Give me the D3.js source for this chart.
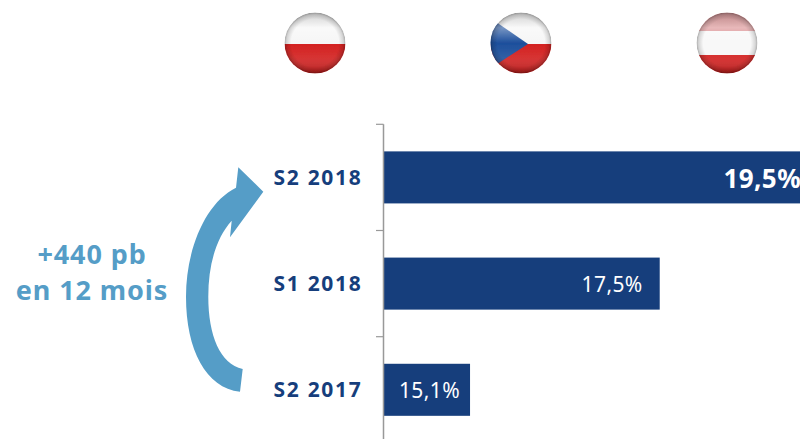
<!DOCTYPE html>
<html><head><meta charset="utf-8">
<script src="https://cdn.jsdelivr.net/npm/d3@7/dist/d3.min.js"></script>
<style>html,body{margin:0;padding:0;background:#fff;overflow:hidden}svg{display:block;font-family:"Noto Sans",sans-serif}</style>
</head><body><svg id="c" width="800" height="439"></svg>
<script>
const periods = ["S2 2018","S1 2018","S2 2017"];
const values = [19.5,17.5,15.1];
const valueLabels = ["19,5%","17,5%","15,1%"];
const flagNames = ["Pologne","Tchéquie","Autriche"];
const noteLines = ["+440 pb","en 12 mois"];

const navy="#163e7c", blue="#559dc7", grey="#999";
const labelInsets=[-1,17,10];
const svg=d3.select("#c");
const x=d3.scaleLinear().domain([14,20]).range([383.1,857.3]);
const y=d3.scaleBand().domain(periods).range([124.3,442.9]).paddingInner(0.51).paddingOuter(0.255);

// bars
svg.selectAll(".bar").data(values).join("rect").attr("class","bar")
 .attr("x",x(14)).attr("y",(d,i)=>y(periods[i])).attr("width",d=>x(d)-x(14)).attr("height",y.bandwidth()).attr("fill",navy);
svg.selectAll(".val").data(values).join("text").attr("class","val")
 .attr("x",(d,i)=>i===0?801:x(d)-labelInsets[i]).attr("y",(d,i)=>y(periods[i])+y.bandwidth()/2+1)
 .attr("dy","0.35em").attr("text-anchor","end").attr("fill","#fff")
 .attr("font-size",(d,i)=>i===0?26:21).attr("font-weight",(d,i)=>i===0?700:400).attr("letter-spacing",0.4)
 .text((d,i)=>valueLabels[i]);

// axis
const ax=svg.append("g").attr("transform","translate(383.5,0)");
ax.call(d3.axisLeft(y).tickSize(0).tickPadding(21));
ax.select(".domain").remove();
ax.attr("font-family",null);
ax.selectAll("text").attr("fill",navy).attr("font-size",21).attr("font-weight",700).attr("letter-spacing",1.7).attr("dy","0.36em");
const edges=periods.map(p=>y(p)-y.step()*0.255);
svg.append("line").attr("x1",383.5).attr("x2",383.5).attr("y1",edges[0]).attr("y2",439).attr("stroke",grey).attr("stroke-width",1.5);
svg.selectAll(".tk").data(edges).join("line").attr("class","tk").attr("x1",376).attr("x2",383.5).attr("y1",d=>d).attr("y2",d=>d).attr("stroke",grey).attr("stroke-width",1.2);

// note + arrow
svg.selectAll(".note").data(noteLines).join("text").attr("class","note")
 .attr("x",92).attr("y",(d,i)=>264+36*i).attr("text-anchor","middle").attr("fill",blue)
 .attr("font-size",27).attr("font-weight",700).attr("letter-spacing",0.9).text(d=>d);
svg.append("path").attr("fill",blue)
 .attr("d","M263.3,191.7 L238.3,167.3 L236,187.7 C205,203 186,250 186,296.7 C186,350 206,388 240,391.7 L242.7,369 C220,364 208.3,335 208.3,296.7 C208.3,265 216,238 231.7,220.7 L230,237.3 Z");

// flags
const defs=svg.append("defs");
defs.append("filter").attr("id","soft").attr("x","-10%").attr("y","-10%").attr("width","120%").attr("height","120%").append("feGaussianBlur").attr("stdDeviation",0.6);
const gloss=defs.append("linearGradient").attr("id","gloss").attr("x1",0).attr("x2",0).attr("y1",0).attr("y2",1);
[[0,"#888",0.3],[0.25,"#fff",0.4],[0.5,"#fff",0],[0.72,"#fff",0.08],[1,"#400",0.3]].forEach(s=>gloss.append("stop").attr("offset",s[0]).attr("stop-color",s[1]).attr("stop-opacity",s[2]));
const edge=defs.append("radialGradient").attr("id","edge");
[[0.78,"#000",0],[0.93,"#000",0.14],[1,"#000",0.32]].forEach(s=>edge.append("stop").attr("offset",s[0]).attr("stop-color",s[1]).attr("stop-opacity",s[2]));
const fx=d3.scalePoint().domain(flagNames).range([315,727]);
const R=30.5, cy=43;
const white="#f6f6f6", red="#d3201f", czBlue="#1d4f9c";
flagNames.forEach((n,i)=>{
  const cx=fx(n);
  defs.append("clipPath").attr("id","cl"+i).append("circle").attr("cx",cx).attr("cy",cy).attr("r",R);
  const w=svg.append("g").attr("filter","url(#soft)");
  const g=w.append("g").attr("clip-path",`url(#cl${i})`);
  const band=(y0,y1,c)=>g.append("rect").attr("x",cx-R).attr("y",y0).attr("width",2*R).attr("height",y1-y0).attr("fill",c);
  if(i<2){band(cy-R,cy+1,white);band(cy+1,cy+R,red);}
  if(i===1) g.append("path").attr("fill",czBlue).attr("d",`M${cx-R-8},${cy-R} L${cx+7},${cy+1} L${cx-R-8},${cy+R} Z`);
  if(i===2){band(cy-R,cy-12,"#d98a8c");band(cy-12,cy+12,"#f8f8f8");band(cy+12,cy+R,red);}
  g.append("circle").attr("cx",cx).attr("cy",cy).attr("r",R).attr("fill","url(#gloss)");
  g.append("circle").attr("cx",cx).attr("cy",cy).attr("r",R).attr("fill","url(#edge)");
});
</script></body></html>
